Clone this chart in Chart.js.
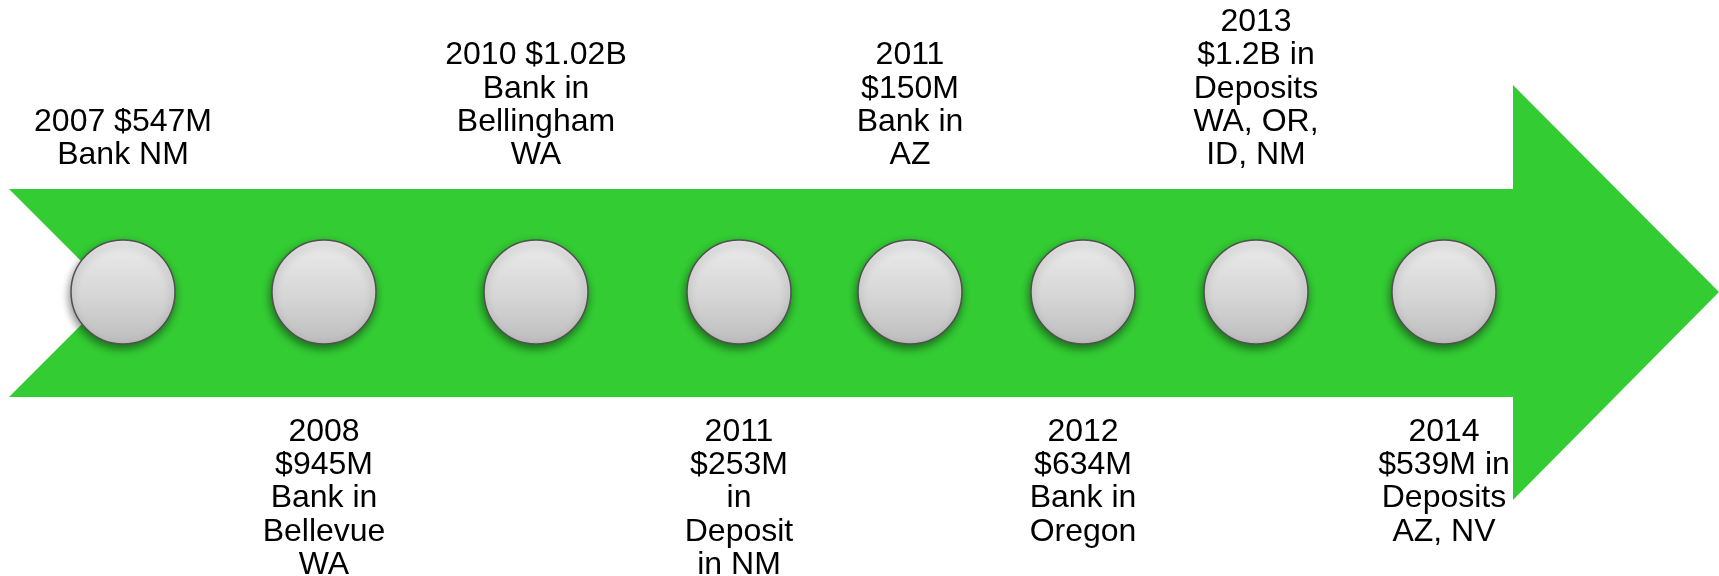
<!DOCTYPE html>
<html>
<head>
<meta charset="utf-8">
<script src="https://cdn.jsdelivr.net/npm/chart.js@4/dist/chart.umd.min.js"></script>
<style>
  html, body { margin: 0; padding: 0; background: #ffffff; }
  #wrap { position: relative; width: 1719px; height: 576px; }
</style>
</head>
<body>
<div id="wrap"><canvas id="c"></canvas></div>
<script>
// ---- Data ----
const eventLabels = [
  ['2007 $547M', 'Bank NM'],
  ['2008', '$945M', 'Bank in', 'Bellevue', 'WA'],
  ['2010 $1.02B', 'Bank in', 'Bellingham', 'WA'],
  ['2011', '$253M', 'in', 'Deposit', 'in NM'],
  ['2011', '$150M', 'Bank in', 'AZ'],
  ['2012', '$634M', 'Bank in', 'Oregon'],
  ['2013', '$1.2B in', 'Deposits', 'WA, OR,', 'ID, NM'],
  ['2014', '$539M in', 'Deposits', 'AZ, NV']
];
// timeline slot of each event along the arrow (x scale units)
const eventSlot = [123, 324, 536, 739, 910, 1083, 1256, 1444];
// level of the timeline (y scale units)
const timelineLevel = 292;
// arrow outline (scale units)
const arrowX = [9, 1513, 1513, 1719, 1513, 1513, 9, 113, 9];
const arrowY = [189, 189, 85, 292, 500, 397, 397, 293, 189];

// ---- Build datasets ----
const arrowData = arrowX.map((x, i) => ({ x: x, y: arrowY[i] }));
const eventData = eventSlot.map((x, i) => ({ x: x, y: timelineLevel }));

const FONT = '32px "Liberation Sans", Arial, sans-serif';
const LINE_H = 33.2;
const R = 52;

const shadowPlugin = {
  id: 'circleShadow',
  beforeDatasetDraw(chart, args) {
    if (args.index === 1) {
      const ctx = chart.ctx;
      ctx.save();
      ctx.shadowColor = 'rgba(0,0,0,0.45)';
      ctx.shadowBlur = 8;
      ctx.shadowOffsetX = -1;
      ctx.shadowOffsetY = 4;
    }
  },
  afterDatasetDraw(chart, args) {
    if (args.index === 1) chart.ctx.restore();
  }
};

const labelPlugin = {
  id: 'eventLabels',
  afterDatasetsDraw(chart) {
    const ctx = chart.ctx;
    const meta = chart.getDatasetMeta(1);
    ctx.save();
    ctx.font = FONT;
    ctx.fillStyle = '#000000';
    ctx.textAlign = 'center';
    ctx.textBaseline = 'alphabetic';
    meta.data.forEach((pt, i) => {
      const lines = eventLabels[i];
      if (i % 2 === 0) {
        const lastBase = pt.y - 128;
        lines.forEach((t, k) => {
          ctx.fillText(t, pt.x, lastBase - (lines.length - 1 - k) * LINE_H);
        });
      } else {
        const firstBase = pt.y + 149;
        lines.forEach((t, k) => {
          ctx.fillText(t, pt.x, firstBase + k * LINE_H);
        });
      }
    });
    ctx.restore();
  }
};

function circleFill(c) {
  const chart = c.chart;
  const ys = chart.scales && chart.scales.y;
  const cy = ys ? ys.getPixelForValue(timelineLevel) : NaN;
  if (!Number.isFinite(cy)) return '#d6d6d6';
  const g = chart.ctx.createLinearGradient(0, cy - R, 0, cy + R);
  g.addColorStop(0, '#ececec');
  g.addColorStop(0.6, '#d3d3d3');
  g.addColorStop(1, '#bdbdbd');
  return g;
}

new Chart(document.getElementById('c'), {
  type: 'scatter',
  data: {
    datasets: [
      {
        label: 'arrow',
        data: arrowData,
        order: 2,
        showLine: true,
        fill: 'shape',
        backgroundColor: '#33CC33',
        borderColor: '#33CC33',
        borderWidth: 0,
        pointRadius: 0,
        tension: 0,
        clip: false
      },
      {
        label: 'events',
        data: eventData,
        order: 1,
        showLine: false,
        pointStyle: 'circle',
        pointRadius: R,
        borderWidth: 1.5,
        borderColor: '#505050',
        backgroundColor: circleFill,
        clip: false
      }
    ]
  },
  options: {
    responsive: true,
    maintainAspectRatio: false,
    animation: false,
    events: [],
    layout: { padding: 0, autoPadding: false },
    plugins: {
      legend: { display: false },
      tooltip: { enabled: false },
      filler: { propagate: false }
    },
    scales: {
      x: { type: 'linear', min: 0, max: 1719, display: false },
      y: { type: 'linear', min: 0, max: 576, reverse: true, display: false }
    }
  },
  plugins: [shadowPlugin, labelPlugin]
});
</script>
</body>
</html>
